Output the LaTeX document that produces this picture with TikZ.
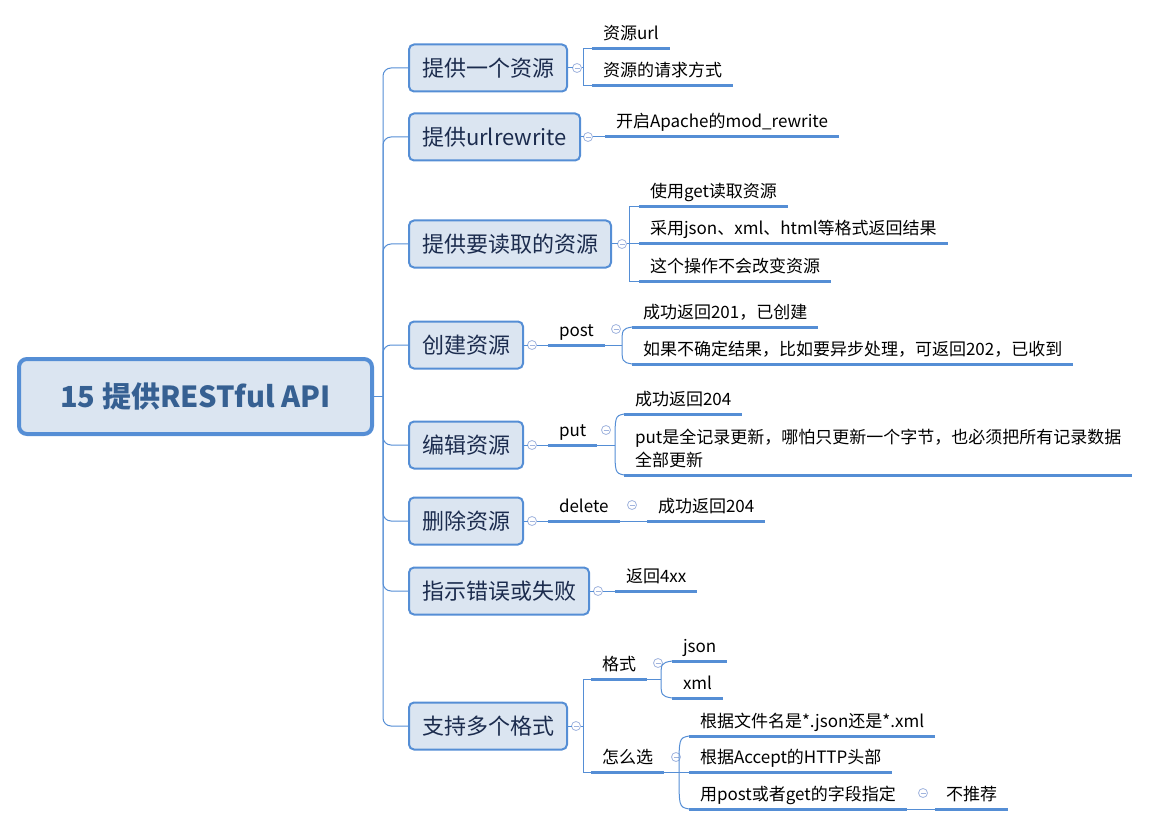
\documentclass[tikz,border=0pt]{standalone}
\usepackage{fontspec}
\setmainfont{Noto Sans CJK SC}
\usetikzlibrary{calc}
\definecolor{mblue}{RGB}{85,142,213}
\definecolor{boxfill}{RGB}{219,229,241}
\definecolor{topictext}{RGB}{28,44,78}
\definecolor{roottext}{RGB}{54,96,146}
\definecolor{foldc}{RGB}{160,180,222}
\tikzset{
  rootbox/.style={draw=mblue, line width=4pt, rounded corners=8pt, fill=boxfill,
    font=\fontsize{29}{34}\selectfont\bfseries, text=roottext,
    minimum width=353pt, minimum height=75pt, inner sep=0pt, outer sep=0pt},
  topic/.style={draw=mblue, line width=2pt, rounded corners=5pt, fill=boxfill,
    font=\fontsize{22}{26}\selectfont, text=topictext, minimum height=47pt,
    inner xsep=13pt, inner ysep=0pt, outer sep=0pt, anchor=west},
  uline/.style={draw=mblue, line width=3pt},
  leafbase/.style={anchor=south west, inner xsep=11pt, inner ysep=5pt, outer sep=0pt,
    text depth=4pt, font=\fontsize{17}{23}\selectfont, text=black,
    append after command={(\tikzlastnode.south west) edge[uline] (\tikzlastnode.south east)}},
  leaf/.style={leafbase, text height=12pt},
  conn/.style={draw=mblue, line width=1pt},
  fold/.style={circle, draw=foldc, fill=white, minimum size=9pt, inner sep=0pt, outer sep=0pt,
    line width=0.8pt,
    path picture={\draw[foldc, line width=0.8pt]
      ([xshift=-2.5pt]path picture bounding box.center) -- ([xshift=2.5pt]path picture bounding box.center);}},
}
\begin{document}
\begin{tikzpicture}[x=1pt, y=-1pt]
\useasboundingbox (0,0) rectangle (1150,826);

% root
\node[rootbox] (root) at (195.5,396.5) {15 提供RESTful API};
\coordinate (spine) at (383,396.5);

% topics
\node[topic] (t1) at (409,68) {提供一个资源};
\node[topic] (t2) at (409,137) {提供urlrewrite};
\node[topic] (t3) at (409,244) {提供要读取的资源};
\node[topic] (t4) at (409,345) {创建资源};
\node[topic] (t5) at (409,445) {编辑资源};
\node[topic] (t6) at (409,521) {删除资源};
\node[topic] (t7) at (409,591) {指示错误或失败};
\node[topic] (t8) at (409,726) {支持多个格式};

% spine connectors
\draw[conn] (root.east) -- (spine);
\foreach \t in {t1,t2,t3,t4,t5,t6,t7,t8}
  \draw[conn, rounded corners=8pt] (spine) |- (\t.west);

% fold markers
\node[fold] (f1) at (577,68) {};
\node[fold] (f2) at (588,137) {};
\node[fold] (f3) at (622,244) {};
\node[fold] (f4) at (532,345) {};
\node[fold] (f5) at (532,445) {};
\node[fold] (f6) at (532,521) {};
\node[fold] (f7) at (598,591) {};
\node[fold] (f8) at (576,726) {};

% branch 1
\node[leaf] (l11) at (592,49) {资源url};
\node[leaf] (l12) at (592,86) {资源的请求方式};
\coordinate (b1) at (583,68);
\draw[conn] (t1.east) -- (f1.west);
\draw[conn] (f1.east) -- (b1);
\draw[conn] (b1) |- (l11.south west);
\draw[conn] (b1) |- (l12.south west);

% branch 2
\node[leaf] (l21) at (605,137) {开启Apache的mod\_rewrite};
\draw[conn] (t2.east) -- (f2.west);
\draw[conn] (f2.east) -- (l21.south west);

% branch 3
\node[leaf] (l31) at (639,207) {使用get读取资源};
\node[leaf] (l32) at (639,244) {采用json、xml、html等格式返回结果};
\node[leaf] (l33) at (639,281) {这个操作不会改变资源};
\coordinate (b3) at (629,244);
\draw[conn] (t3.east) -- (f3.west);
\draw[conn] (f3.east) -- (b3);
\draw[conn] (b3) |- (l31.south west);
\draw[conn] (b3) |- (l32.south west);
\draw[conn] (b3) |- (l33.south west);

% branch 4
\node[leaf] (post) at (548,345) {post};
\node[fold] (fpost) at (616,329) {};
\node[leaf] (l41) at (632,327) {成功返回201，已创建};
\node[leaf] (l42) at (632,364) {如果不确定结果，比如要异步处理，可返回202，已收到};
\coordinate (bp) at (622,345);
\draw[conn] (t4.east) -- (f4.west);
\draw[conn] (f4.east) -- (post.south west);
\draw[conn] (post.south east) -- (bp);
\draw[conn] (bp) .. controls (622,329) .. (l41.south west);
\draw[conn] (bp) .. controls (622,362) .. (l42.south west);

% branch 5
\node[leaf] (put) at (548,445) {put};
\node[fold] (fput) at (606,430) {};
\node[leaf] (l51) at (624,414) {成功返回204};
\node[leafbase, align=left] (l52) at (624,475) {put是全记录更新，哪怕只更新一个字节，也必须把所有记录数据\\全部更新};
\coordinate (bput) at (615,445);
\draw[conn] (t5.east) -- (f5.west);
\draw[conn] (f5.east) -- (put.south west);
\draw[conn] (put.south east) -- (bput);
\draw[conn] (bput) .. controls (615,416) .. (l51.south west);
\draw[conn] (bput) .. controls (615,473) .. (l52.south west);

% branch 6
\node[leaf] (del) at (548,521) {delete};
\node[fold] (fdel) at (632,505) {};
\node[leaf] (l61) at (647,521) {成功返回204};
\draw[conn] (t6.east) -- (f6.west);
\draw[conn] (f6.east) -- (del.south west);
\draw[conn] (del.south east) -- (l61.south west);

% branch 7
\node[leaf] (l71) at (615,591) {返回4xx};
\draw[conn] (t7.east) -- (f7.west);
\draw[conn] (f7.east) -- (l71.south west);

% branch 8
\node[leaf] (gs) at (591,679) {格式};
\node[fold] (fgs) at (658,663) {};
\node[leaf] (json) at (672,661) {json};
\node[leaf] (xml) at (672,698) {xml};
\node[leaf] (zm) at (591,772) {怎么选};
\node[fold] (fzm) at (676,757) {};
\node[leaf] (l821) at (689,736) {根据文件名是*.json还是*.xml};
\node[leaf] (l822) at (689,772) {根据Accept的HTTP头部};
\node[leaf] (l823) at (689,809) {用post或者get的字段指定};
\node[fold] (fpg) at (923,793) {};
\node[leaf] (l824) at (935,809) {不推荐};
\coordinate (b8) at (583,726);
\coordinate (bgs) at (661,679);
\coordinate (bzm) at (679,772);
\draw[conn] (t8.east) -- (f8.west);
\draw[conn] (f8.east) -- (b8);
\draw[conn] (b8) |- (gs.south west);
\draw[conn] (b8) |- (zm.south west);
\draw[conn] (gs.south east) -- (bgs);
\draw[conn] (bgs) .. controls (661,663) .. (json.south west);
\draw[conn] (bgs) .. controls (661,696) .. (xml.south west);
\draw[conn] (zm.south east) -- (bzm);
\draw[conn] (bzm) .. controls (679,738) .. (l821.south west);
\draw[conn] (bzm) -- (l822.south west);
\draw[conn] (bzm) .. controls (679,807) .. (l823.south west);
\draw[conn] (l823.south east) -- (l824.south west);
\end{tikzpicture}
\end{document}
